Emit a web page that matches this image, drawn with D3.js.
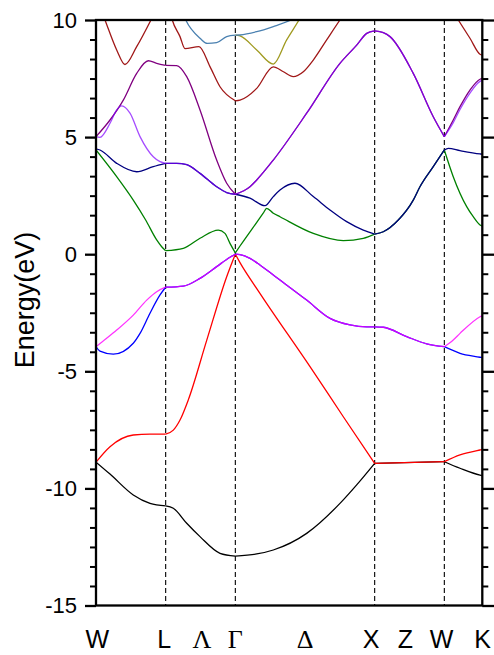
<!DOCTYPE html>
<html>
<head>
<meta charset="utf-8">
<script src="https://cdn.jsdelivr.net/npm/d3@7"></script>
<style>
  body { margin: 0; background: #fff; }
  svg { display: block; }
</style>
</head>
<body>
<svg id="chart"></svg>
<script>
// k path: W - L - Γ - X - W - K (distance units along the path)
const kPoints = [0, 1, 2, 4, 5, 5.545];
const kLabels = ['W', 'L', 'Λ', 'Γ', 'Δ', 'X', 'Z', 'W', 'K'];
const kLabelPos = [0.02, 0.98, 1.52, 2.0, 3.0, 3.95, 4.44, 4.96, 5.55];
const greekLabels = ['Λ', 'Γ', 'Δ'];
const yMajor = [-15, -10, -5, 0, 5, 10];

// bands, [k, E(eV)]
const bandBlack = [
    [0, -8.88], [0.201, -9.39], [0.535, -10.28], [0.775, -10.64], [1, -10.75],
    [1.110, -10.85], [1.302, -11.49], [1.493, -12.06], [1.780, -12.77], [2, -12.89],
    [2.307, -12.80], [2.545, -12.63], [3.024, -11.92], [3.502, -10.64], [3.742, -9.85], [4, -8.93],
    [5, -8.86],
    [5.225, -9.14], [5.512, -9.43], [5.545, -9.45]
];
const bandRed = [
    [0, -8.88], [0.201, -8.22], [0.535, -7.72], [0.775, -7.68], [1, -7.68],
    [1.110, -7.51], [1.206, -7.08], [1.325, -6.22], [1.589, -3.68], [1.876, -0.96], [2, 0],
    [2.067, -0.36], [2.353, -1.67], [3.072, -4.80], [3.55, -6.94], [4, -8.93],
    [5, -8.86],
    [5.225, -8.57], [5.512, -8.36], [5.545, -8.34]
];
const bandBlue = [
    [0, -3.95], [0.057, -4.14], [0.248, -4.27], [0.535, -3.80], [0.632, -3.38], [0.775, -2.52], [0.919, -1.74], [1, -1.41],
    [1.253, -1.36], [1.493, -1.03], [1.732, -0.53], [1.923, -0.13], [2, 0],
    [2.067, -0.02], [2.21, -0.18], [2.353, -0.46], [2.545, -0.89], [3.024, -1.96], [3.359, -2.74], [3.646, -3.02], [3.886, -3.10], [4, -3.10],
    [4.124, -3.12], [4.46, -3.52], [4.747, -3.83], [5, -3.95],
    [5.225, -4.23], [5.512, -4.40], [5.545, -4.42]
];
const bandMagenta = [
    [0, -3.95], [0.153, -3.59], [0.297, -3.24], [0.535, -2.60], [0.728, -1.96], [0.871, -1.60], [1, -1.41],
    [1.253, -1.36], [1.493, -1.03], [1.732, -0.53], [1.923, -0.13], [2, 0],
    [2.067, -0.02], [2.21, -0.18], [2.353, -0.46], [2.545, -0.89], [3.024, -1.96], [3.359, -2.74], [3.646, -3.02], [3.886, -3.10], [4, -3.10],
    [4.124, -3.12], [4.46, -3.52], [4.747, -3.83], [5, -3.95],
    [5.128, -3.66], [5.225, -3.38], [5.512, -2.67], [5.545, -2.62]
];
const bandGreen = [
    [0, 4.45], [0.297, 3.31], [0.535, 2.31], [0.713, 1.46], [0.871, 0.61], [0.943, 0.32], [1, 0.15],
    [1.253, 0.25], [1.493, 0.68], [1.755, 1.03], [1.851, 0.89], [1.923, 0.46], [2, 0.06],
    [2.067, 0.35], [2.3, 1.33], [2.4, 1.75], [2.45, 1.96], [2.545, 1.75], [2.641, 1.60], [3.119, 0.89], [3.55, 0.58], [3.837, 0.68], [4, 0.86],
    [4.124, 0.96], [4.339, 1.46], [4.554, 2.31], [4.65, 2.88], [4.841, 3.74], [5, 4.45],
    [5.128, 3.31], [5.321, 2.03], [5.415, 1.60], [5.512, 1.25], [5.545, 1.20]
];
const bandNavy = [
    [0, 4.50], [0.057, 4.45], [0.297, 3.88], [0.584, 3.52], [0.822, 3.74], [1, 3.88],
    [1.158, 3.88], [1.302, 3.82], [1.493, 3.45], [1.732, 2.88], [1.876, 2.63], [2, 2.56],
    [2.21, 2.39], [2.426, 2.07], [2.545, 2.46], [2.641, 2.74], [2.856, 3.03], [3.119, 2.46], [3.359, 1.89], [3.598, 1.39], [3.837, 1.03], [4, 0.86],
    [4.124, 0.96], [4.339, 1.46], [4.554, 2.31], [4.65, 2.88], [4.841, 3.74], [5, 4.45],
    [5.057, 4.52], [5.225, 4.42], [5.512, 4.28], [5.545, 4.27]
];
const bandViolet = [
    [0, 5.02], [0.057, 4.99], [0.201, 5.59], [0.297, 6.16], [0.369, 6.33], [0.488, 6.02], [0.632, 5.02], [0.822, 4.16], [0.919, 3.95], [1, 3.88],
    [1.158, 3.88], [1.302, 3.82], [1.493, 3.45], [1.732, 2.88], [1.876, 2.63], [2, 2.56],
    [2.21, 2.88], [2.307, 3.17], [2.545, 4.02], [3.024, 6.02], [3.502, 8.15], [3.742, 8.93], [3.886, 9.43], [4, 9.54],
    [4.124, 9.46], [4.22, 9.29], [4.554, 7.72], [4.841, 5.87], [5, 5.02],
    [5.128, 5.62], [5.225, 6.18], [5.368, 6.88], [5.512, 7.38], [5.545, 7.42]
];
const bandPurple = [
    [0, 5.02], [0.201, 5.73], [0.392, 6.58], [0.584, 7.72], [0.751, 8.26], [0.871, 8.15], [1, 8.06],
    [1.158, 8.05], [1.302, 7.58], [1.493, 6.16], [1.732, 4.02], [1.876, 3.03], [2, 2.56],
    [2.21, 2.88], [2.307, 3.17], [2.545, 4.02], [3.024, 6.02], [3.502, 8.15], [3.742, 8.93], [3.886, 9.43], [4, 9.54],
    [4.124, 9.46], [4.22, 9.29], [4.554, 7.72], [4.841, 5.87], [5, 5.02],
    [5.128, 5.73], [5.225, 6.30], [5.368, 7.01], [5.512, 7.47], [5.545, 7.50]
];
const bandWine = [
    [0, 11.0], [0.129, 10.0], [0.297, 8.72], [0.416, 8.10], [0.584, 8.86], [0.789, 10.0], [1, 11.3],
    [1.095, 10.0], [1.206, 9.29], [1.277, 8.78], [1.478, 8.86], [1.636, 8.01], [1.780, 7.15], [2, 6.55],
    [2.067, 6.58], [2.307, 7.08], [2.545, 8.00], [2.690, 7.79], [2.832, 7.58], [2.976, 7.79], [3.119, 8.29], [3.311, 9.15], [3.502, 10.0], [4, 12.0],
    [5, 10.9],
    [5.2, 10.0], [5.368, 9.22], [5.512, 8.54], [5.545, 8.50]
];
const bandOlive = [
    [2, 9.35], [2.067, 9.32], [2.307, 8.72], [2.545, 8.12], [2.737, 9.15], [2.914, 10.0], [3.0, 10.45]
];
const bandSteel = [
    [1.206, 10.6], [1.288, 10.0], [1.493, 9.22], [1.598, 9.00], [1.732, 9.03], [1.876, 9.29], [2, 9.35],
    [2.067, 9.36], [2.307, 9.50], [2.545, 9.72], [2.799, 10.0], [2.93, 10.2]
];

const bands = [
    { data: bandBlack, color: '#000000', opacity: 1 },
    { data: bandRed, color: '#ff0000', opacity: 1 },
    { data: bandBlue, color: '#0000ff', opacity: 1 },
    { data: bandMagenta, color: '#ff00ff', opacity: 0.8 },
    { data: bandGreen, color: '#008000', opacity: 1 },
    { data: bandNavy, color: '#000080', opacity: 1 },
    { data: bandPurple, color: '#800080', opacity: 1 },
    { data: bandViolet, color: '#8000ff', opacity: 0.7 },
    { data: bandWine, color: '#a01818', opacity: 1 },
    { data: bandOlive, color: '#a09a20', opacity: 1 },
    { data: bandSteel, color: '#4a80b0', opacity: 1 }
];

const width = 494, height = 655;
const margin = { top: 20, right: 11.7, bottom: 49.5, left: 96 };

const svg = d3.select('#chart')
    .attr('width', width)
    .attr('height', height);

const x = d3.scaleLinear()
    .domain([kPoints[0], kPoints[kPoints.length - 1]])
    .range([margin.left, width - margin.right]);
const y = d3.scaleLinear()
    .domain([-15, 10])
    .range([height - margin.bottom, margin.top]);

svg.append('defs').append('clipPath')
    .attr('id', 'plot-clip')
    .append('rect')
    .attr('x', x.range()[0])
    .attr('y', y.range()[1])
    .attr('width', x.range()[1] - x.range()[0])
    .attr('height', y.range()[0] - y.range()[1]);

// dashed lines at the inner high-symmetry points
svg.append('g')
    .selectAll('line')
    .data(kPoints.slice(1, -1))
    .join('line')
    .attr('x1', d => x(d)).attr('x2', d => x(d))
    .attr('y1', y(10)).attr('y2', y(-15))
    .attr('stroke', '#000')
    .attr('stroke-width', 1.1)
    .attr('stroke-dasharray', '5,3');

// bands, split at the high-symmetry points
const line = d3.line()
    .x(d => x(d[0]))
    .y(d => y(d[1]))
    .curve(d3.curveMonotoneX);

const bandLayer = svg.append('g').attr('clip-path', 'url(#plot-clip)');
bands.forEach(b => {
    for (let i = 0; i < kPoints.length - 1; i++) {
        const a = kPoints[i], c = kPoints[i + 1];
        const pts = b.data.filter(p => p[0] >= a - 1e-6 && p[0] <= c + 1e-6);
        if (pts.length < 2) continue;
        bandLayer.append('path')
            .attr('d', line(pts))
            .attr('fill', 'none')
            .attr('stroke', b.color)
            .attr('stroke-opacity', b.opacity)
            .attr('stroke-width', 1.3);
    }
});

// frame
svg.append('rect')
    .attr('x', x.range()[0])
    .attr('y', y.range()[1])
    .attr('width', x.range()[1] - x.range()[0])
    .attr('height', y.range()[0] - y.range()[1])
    .attr('fill', 'none')
    .attr('stroke', '#000')
    .attr('stroke-width', 2.3);

// ticks
const minorVals = d3.range(31).map(i => -15 + i * 5 / 6).filter((d, i) => i % 6 !== 0);

function styleAxis(g, w) {
    g.select('.domain').remove();
    g.selectAll('.tick line').attr('stroke', '#000').attr('stroke-width', w);
}

svg.append('g')
    .attr('transform', `translate(${x.range()[0]},0)`)
    .call(d3.axisLeft(y).tickValues(minorVals).tickSize(6).tickFormat(''))
    .call(g => styleAxis(g, 2));

svg.append('g')
    .attr('transform', `translate(${x.range()[0]},0)`)
    .call(d3.axisLeft(y).tickValues(yMajor).tickSize(11).tickPadding(8).tickFormat(d => String(d)))
    .call(g => styleAxis(g, 2.3))
    .call(g => g.selectAll('.tick text')
        .attr('fill', '#000')
        .style('font-family', '"Liberation Sans", Arial, sans-serif')
        .style('font-size', '22px'));

svg.append('g')
    .attr('transform', `translate(${x.range()[1]},0)`)
    .call(d3.axisRight(y).tickValues(minorVals).tickSize(6).tickFormat(''))
    .call(g => styleAxis(g, 2));

svg.append('g')
    .attr('transform', `translate(${x.range()[1]},0)`)
    .call(d3.axisRight(y).tickValues(yMajor).tickSize(12).tickFormat(''))
    .call(g => styleAxis(g, 2.3));

// k-point labels
svg.append('g')
    .selectAll('text')
    .data(kLabels)
    .join('text')
    .attr('x', (d, i) => x(kLabelPos[i]))
    .attr('y', 648)
    .attr('text-anchor', 'middle')
    .attr('fill', '#000')
    .style('font-family', d => greekLabels.includes(d) ? '"Liberation Serif", "Times New Roman", serif' : '"Liberation Sans", Arial, sans-serif')
    .style('font-size', d => greekLabels.includes(d) ? '26px' : '25px')
    .text(d => d);

// y axis title
svg.append('text')
    .attr('transform', 'translate(33.5,300) rotate(-90)')
    .attr('text-anchor', 'middle')
    .attr('fill', '#000')
    .style('font-family', '"Liberation Sans", Arial, sans-serif')
    .style('font-size', '27px')
    .text('Energy(eV)');
</script>
</body>
</html>
